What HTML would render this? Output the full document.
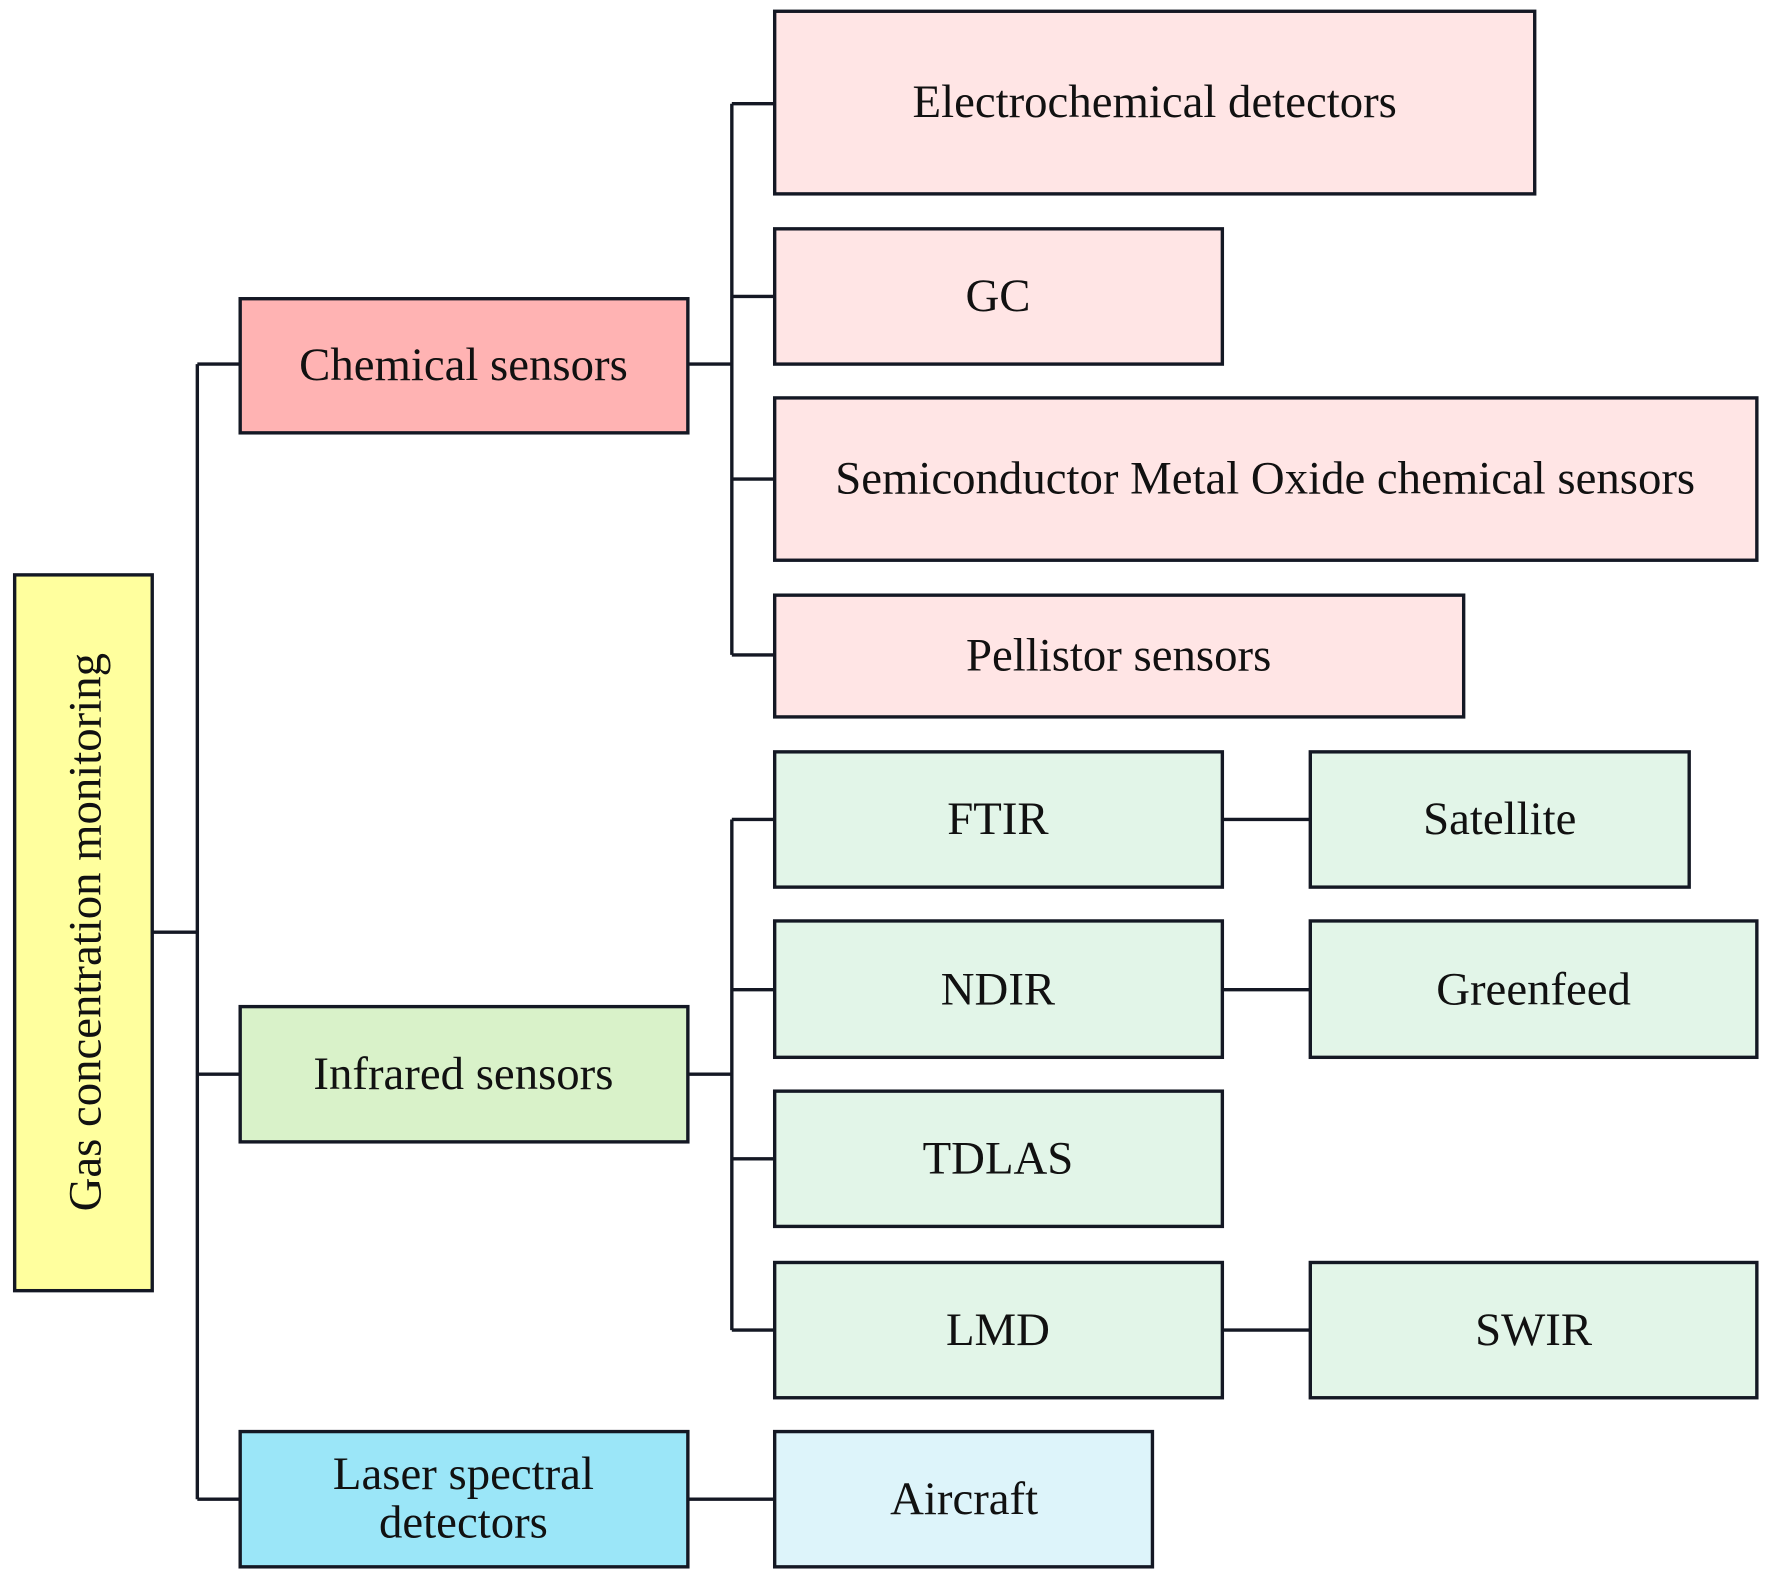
<!DOCTYPE html>
<html><head><meta charset="utf-8"><style>html,body{margin:0;padding:0;background:#fff}svg{display:block}</style></head>
<body>
<svg width="1767" height="1586" viewBox="0 0 1567 1407" preserveAspectRatio="none" xmlns="http://www.w3.org/2000/svg" font-family="'Liberation Serif', serif" font-size="41.5" fill="#111">
<g stroke="#141824" stroke-width="3" fill="none">
<path d="M135 827H175M175 323V1330M175 323H213M175 953H213M175 1330H213"/>
<path d="M610 323H649M649 92V581M649 92H687M649 263H687M649 425H687M649 581H687"/>
<path d="M610 953H649M649 727V1180M649 727H687M649 878H687M649 1028H687M649 1180H687"/>
<path d="M610 1330H687M1084 727H1162M1084 878H1162M1084 1180H1162"/>
</g>
<g stroke="#141824" stroke-width="3">
<rect x="13" y="510" width="122" height="635" fill="#FFFF9E"/>
<rect x="213" y="265" width="397" height="119" fill="#FFB3B3"/>
<rect x="213" y="893" width="397" height="120" fill="#D9F2C9"/>
<rect x="213" y="1270" width="397" height="120" fill="#9BE6F8"/>
<rect x="687" y="10" width="674" height="162" fill="#FFE5E5"/>
<rect x="687" y="203" width="397" height="120" fill="#FFE5E5"/>
<rect x="687" y="353" width="871" height="144" fill="#FFE5E5"/>
<rect x="687" y="528" width="611" height="108" fill="#FFE5E5"/>
<rect x="687" y="667" width="397" height="120" fill="#E2F5E8"/>
<rect x="1162" y="667" width="336" height="120" fill="#E2F5E8"/>
<rect x="687" y="817" width="397" height="121" fill="#E2F5E8"/>
<rect x="1162" y="817" width="396" height="121" fill="#E2F5E8"/>
<rect x="687" y="968" width="397" height="120" fill="#E2F5E8"/>
<rect x="687" y="1120" width="397" height="120" fill="#E2F5E8"/>
<rect x="1162" y="1120" width="396" height="120" fill="#E2F5E8"/>
<rect x="687" y="1270" width="335" height="120" fill="#DDF4FA"/>
</g>
<g text-anchor="middle">
<text transform="translate(89 827) rotate(-90)">Gas concentration monitoring</text>
<text x="411" y="337">Chemical sensors</text>
<text x="411" y="966">Infrared sensors</text>
<text x="411" y="1321">Laser spectral</text>
<text x="411" y="1364">detectors</text>
<text x="1024" y="104">Electrochemical detectors</text>
<text x="885" y="276">GC</text>
<text x="1122" y="438">Semiconductor Metal Oxide chemical sensors</text>
<text x="992" y="595">Pellistor sensors</text>
<text x="885" y="740">FTIR</text>
<text x="1330" y="740">Satellite</text>
<text x="885" y="891">NDIR</text>
<text x="1360" y="891">Greenfeed</text>
<text x="885" y="1041">TDLAS</text>
<text x="885" y="1193">LMD</text>
<text x="1360" y="1193">SWIR</text>
<text x="855" y="1343">Aircraft</text>
</g>
</svg>
</body></html>
